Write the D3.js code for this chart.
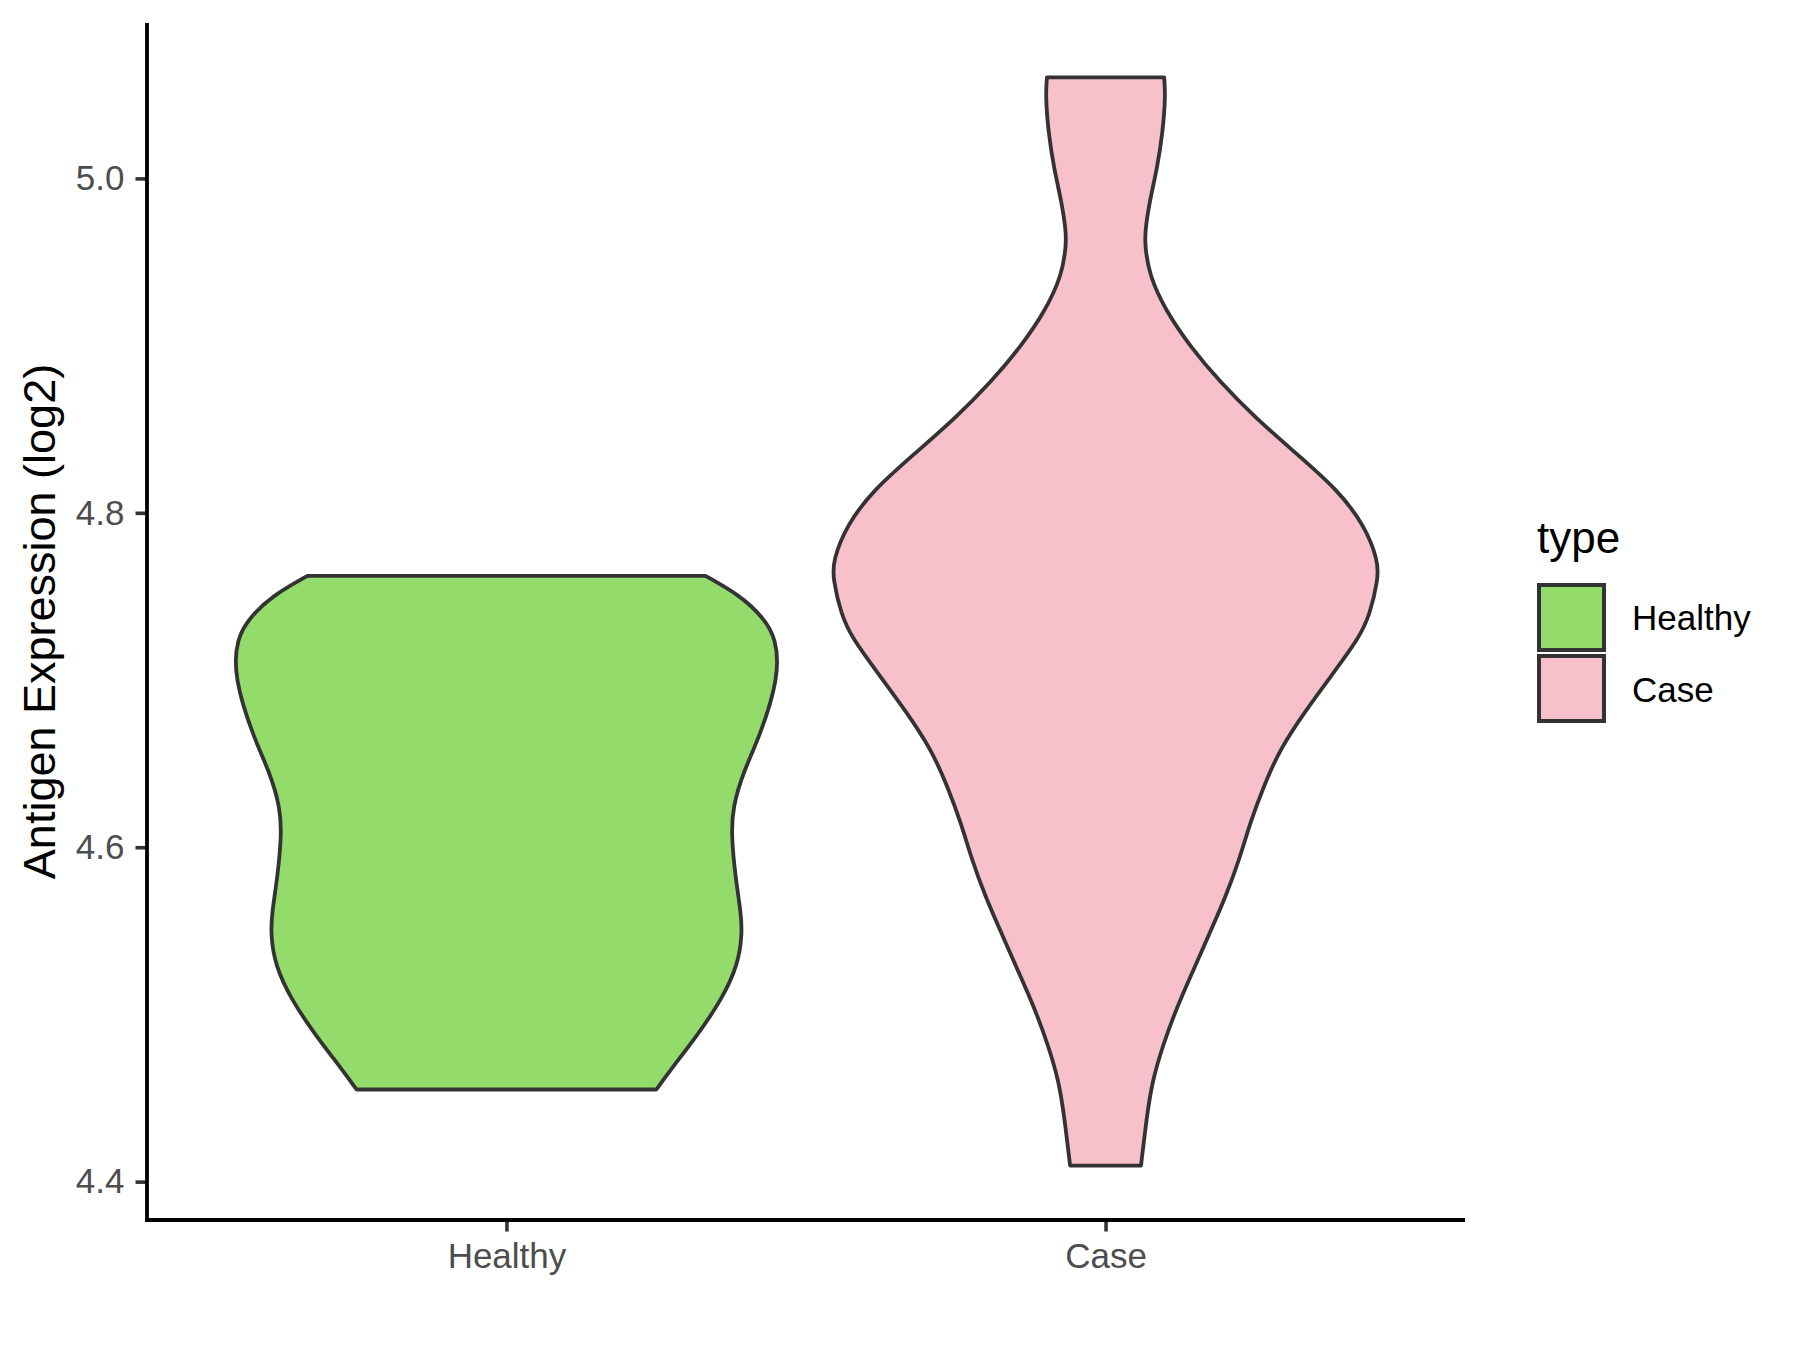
<!DOCTYPE html>
<html>
<head>
<meta charset="utf-8">
<script src="https://cdn.jsdelivr.net/npm/d3@7"></script>
<style>
  body { margin: 0; background: #fff; }
  svg text { font-family: "Liberation Sans", Arial, sans-serif; }
</style>
</head>
<body>
<div id="chart"></div>
<script>
// Groups on the x axis
const categories = ["Healthy", "Case"];

// Violin outlines: expression value and relative density (1 = widest)
const healthyValues = [4.4551, 4.4665, 4.4874, 4.5090, 4.5299, 4.5485, 4.5611, 4.5820, 4.6072,
  4.6240, 4.6455, 4.6665, 4.7018, 4.7251, 4.7377, 4.7503, 4.7623];
const healthyDensity = [0.55, 0.60, 0.70, 0.79, 0.85, 0.865, 0.86, 0.84, 0.825,
  0.83, 0.87, 0.93, 1.00, 0.99, 0.94, 0.86, 0.73];

const caseValues = [4.4096, 4.4371, 4.4593, 4.4814, 4.5036, 4.5257, 4.5479, 4.5701, 4.5922,
  4.6144, 4.6365, 4.6587, 4.6808, 4.7030, 4.7251, 4.7392, 4.7605, 4.7713, 4.7926, 4.8140,
  4.8354, 4.8568, 4.8782, 4.8996, 4.9210, 4.9423, 4.9595, 4.9680, 4.9851, 5.0065, 5.0279,
  5.0493, 5.0604];
const caseDensity = [0.13, 0.15, 0.17, 0.21, 0.26, 0.32, 0.38, 0.44, 0.49,
  0.53, 0.58, 0.64, 0.73, 0.83, 0.93, 0.97, 1.00, 1.00, 0.95, 0.85,
  0.70, 0.55, 0.42, 0.31, 0.22, 0.16, 0.145, 0.145, 0.16, 0.19, 0.21,
  0.22, 0.215];

const yTicks = [4.4, 4.6, 4.8, 5.0];

const fills = { Healthy: "#93DC6C", Case: "#F7C0CB" };

const groups = [
  { name: "Healthy", values: healthyValues, density: healthyDensity },
  { name: "Case", values: caseValues, density: caseDensity }
];

// Layout
const width = 1800, height = 1350;
const margin = { left: 147, right: 1465, top: 23, bottom: 1220 };

const svg = d3.select("#chart").append("svg")
  .attr("width", width)
  .attr("height", height)
  .style("background", "#fff");

// y scale with ggplot-style 5% expansion
const allVals = healthyValues.concat(caseValues);
const ext = d3.extent(allVals);
const pad = (ext[1] - ext[0]) * 0.05;
const y = d3.scaleLinear()
  .domain([ext[0] - pad, ext[1] + pad])
  .range([margin.bottom, margin.top]);

const x = d3.scalePoint()
  .domain(categories)
  .range([margin.left, margin.right])
  .padding(0.6);

const w = d3.scaleLinear()
  .domain([0, 1])
  .range([0, x.step() * 0.455]);

// Violins
groups.forEach(g => {
  const pts = g.values.map((v, i) => ({ v: v, d: g.density[i] }));
  const cx = x(g.name);
  const area = d3.area()
    .curve(d3.curveBasis)
    .y(p => y(p.v))
    .x0(p => cx - w(p.d))
    .x1(p => cx + w(p.d));
  svg.append("path")
    .datum(pts)
    .attr("d", area)
    .attr("fill", fills[g.name])
    .attr("stroke", "#333333")
    .attr("stroke-width", 3.8)
    .attr("stroke-linejoin", "round");
});

// Axes
const yAxis = svg.append("g")
  .attr("transform", `translate(${margin.left},0)`)
  .call(d3.axisLeft(y).tickValues(yTicks).tickFormat(d3.format(".1f"))
    .tickSize(11.5).tickPadding(11).tickSizeOuter(0));
yAxis.select(".domain").remove();
yAxis.selectAll(".tick line").attr("stroke", "#333333").attr("stroke-width", 3.6);
yAxis.selectAll(".tick text")
  .attr("fill", "#4D4D4D")
  .style("font-size", "35px");

const xAxis = svg.append("g")
  .attr("transform", `translate(0,${margin.bottom})`)
  .call(d3.axisBottom(x).tickSize(11.5).tickPadding(11.5).tickSizeOuter(0));
xAxis.select(".domain").remove();
xAxis.selectAll(".tick line").attr("stroke", "#333333").attr("stroke-width", 3.6);
xAxis.selectAll(".tick text")
  .attr("fill", "#4D4D4D")
  .style("font-size", "35px");

// axis lines
svg.append("line")
  .attr("x1", margin.left).attr("x2", margin.left)
  .attr("y1", margin.top).attr("y2", margin.bottom + 1.9)
  .attr("stroke", "#000").attr("stroke-width", 3.8);
svg.append("line")
  .attr("x1", margin.left - 1.9).attr("x2", margin.right)
  .attr("y1", margin.bottom).attr("y2", margin.bottom)
  .attr("stroke", "#000").attr("stroke-width", 3.8);

// y title
svg.append("text")
  .attr("transform", `translate(55,${(margin.top + margin.bottom) / 2}) rotate(-90)`)
  .attr("text-anchor", "middle")
  .style("font-size", "45px")
  .attr("fill", "#000")
  .text("Antigen Expression (log2)");

// Legend
const legend = svg.append("g").attr("transform", "translate(1537,0)");
legend.append("text")
  .attr("x", 0).attr("y", 553)
  .style("font-size", "44px")
  .attr("fill", "#000")
  .text("type");

categories.forEach((c, i) => {
  legend.append("rect")
    .attr("x", 2).attr("y", 585 + i * 71)
    .attr("width", 65).attr("height", 65)
    .attr("fill", fills[c])
    .attr("stroke", "#333333")
    .attr("stroke-width", 4);
  legend.append("text")
    .attr("x", 95).attr("y", 630 + i * 72)
    .style("font-size", "35px")
    .attr("fill", "#000")
    .text(c);
});
</script>
</body>
</html>
